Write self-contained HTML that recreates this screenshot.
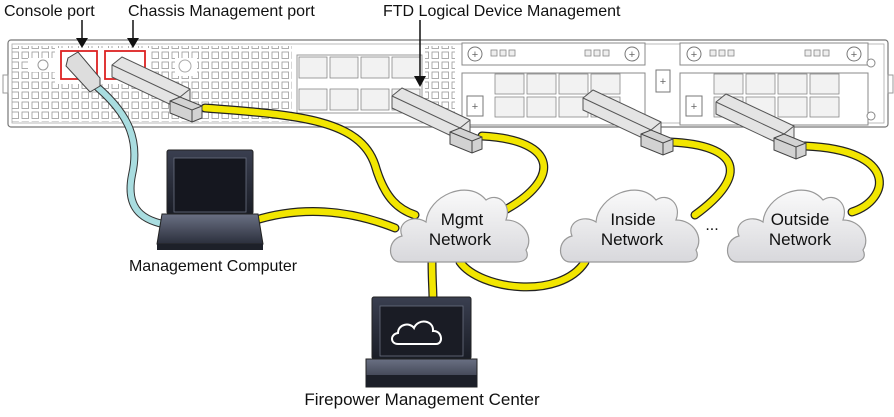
<!DOCTYPE html>
<html><head><meta charset="utf-8"><style>
html,body{margin:0;padding:0;background:#fff;}
svg{display:block;font-family:"Liberation Sans",Arial,sans-serif;}
</style></head><body>
<svg width="894" height="417" viewBox="0 0 894 417" xmlns="http://www.w3.org/2000/svg">
<defs>
<linearGradient id="cg" x1="0" y1="0" x2="0" y2="1"><stop offset="0" stop-color="#fafafa"/><stop offset="1" stop-color="#d8d8dc"/></linearGradient>
<linearGradient id="sg" x1="0" y1="0" x2="0" y2="1"><stop offset="0" stop-color="#3a3f50"/><stop offset="1" stop-color="#1a1d26"/></linearGradient>
<linearGradient id="bg" x1="0" y1="0" x2="0" y2="1"><stop offset="0" stop-color="#6a7083"/><stop offset="1" stop-color="#2b2f3c"/></linearGradient>
<pattern id="vent" x="0" y="0" width="10" height="10" patternUnits="userSpaceOnUse"><rect x="2" y="2" width="6.5" height="6.5" fill="#fff" stroke="#999" stroke-width="0.8"/></pattern>
<path id="cloud" d="M12,84 C0,84 -2,62 14,58 C8,44 26,36 38,44 C40,18 80,0 98,22 C110,14 124,26 118,42 C136,42 146,60 138,72 C142,80 136,84 128,84 Z"/>
<g id="sfp">
<path d="M0,8 L10,0 L78,32 L78,44 L68,52 L0,20 Z" fill="#e4e4e4" stroke="#555" stroke-width="1"/>
<path d="M0,8 L68,40 L78,32 M68,40 L68,52" fill="none" stroke="#555" stroke-width="1"/>
<path d="M58,44 L68,40 L90,49 L90,61 L80,65 L58,56 Z" fill="#d2d2d2" stroke="#444" stroke-width="1"/>
<path d="M58,44 L80,53 L90,49 M80,53 L80,65" fill="none" stroke="#444" stroke-width="1"/>
</g>
</defs>

<!-- chassis -->
<rect x="8" y="40" width="880" height="87" rx="3" fill="#fff" stroke="#777" stroke-width="1.2"/>
<rect x="12" y="44" width="872" height="79" fill="none" stroke="#aaa" stroke-width="0.8"/>
<rect x="3" y="75" width="5" height="18" fill="none" stroke="#999"/>
<rect x="888" y="75" width="5" height="18" fill="none" stroke="#999"/>
<rect x="12" y="46" width="280" height="76" fill="url(#vent)"/>
<rect x="55" y="48" width="95" height="36" fill="#fff"/>
<rect x="28" y="58" width="28" height="14" fill="#fff"/>
<circle cx="43" cy="65" r="5" fill="#fff" stroke="#999"/>
<rect x="175" y="58" width="22" height="18" fill="#fff"/>
<circle cx="185" cy="66" r="6" fill="#fff" stroke="#aaa"/>
<rect x="61" y="51" width="36" height="28" fill="#fff" stroke="#d22" stroke-width="1.8"/>
<rect x="105" y="51" width="40" height="28" fill="#fff" stroke="#d22" stroke-width="1.8"/>
<!-- module 1 fixed -->
<rect x="293" y="46" width="162" height="70" fill="#fff"/>
<rect x="297" y="55" width="125" height="58" fill="#fff" stroke="#999"/>
<g fill="#f2f2f2" stroke="#888" stroke-width="0.8">
<rect x="299" y="57" width="28" height="21"/><rect x="330" y="57" width="28" height="21"/><rect x="361" y="57" width="28" height="21"/><rect x="392" y="57" width="28" height="21"/>
<rect x="299" y="89" width="28" height="21"/><rect x="330" y="89" width="28" height="21"/><rect x="361" y="89" width="28" height="21"/><rect x="392" y="89" width="28" height="21"/>
</g>
<rect x="425" y="46" width="30" height="76" fill="url(#vent)"/>
<!-- module 2 -->
<rect x="462" y="43" width="183" height="22" fill="#fff" stroke="#888"/>
<rect x="462" y="73" width="183" height="52" fill="#fff" stroke="#888"/>
<!-- module 3 -->
<rect x="680" y="43" width="188" height="22" fill="#fff" stroke="#888"/>
<rect x="680" y="73" width="188" height="52" fill="#fff" stroke="#888"/>
<g fill="#f2f2f2" stroke="#888" stroke-width="0.8">
<rect x="495" y="74" width="29" height="20"/><rect x="527" y="74" width="29" height="20"/><rect x="559" y="74" width="29" height="20"/><rect x="591" y="74" width="29" height="20"/>
<rect x="495" y="97" width="29" height="20"/><rect x="527" y="97" width="29" height="20"/><rect x="559" y="97" width="29" height="20"/><rect x="591" y="97" width="29" height="20"/>
<rect x="714" y="74" width="29" height="20"/><rect x="746" y="74" width="29" height="20"/><rect x="778" y="74" width="29" height="20"/><rect x="810" y="74" width="29" height="20"/>
<rect x="714" y="97" width="29" height="20"/><rect x="746" y="97" width="29" height="20"/><rect x="778" y="97" width="29" height="20"/><rect x="810" y="97" width="29" height="20"/>
</g>
<g fill="#fff" stroke="#777" stroke-width="1">
<circle cx="475" cy="54" r="7"/><circle cx="632" cy="54" r="7"/><circle cx="694" cy="54" r="7"/><circle cx="854" cy="54" r="7"/>
<rect x="467" y="96" width="16" height="20"/><rect x="656" y="70" width="14" height="22"/><rect x="686" y="96" width="16" height="20"/>
</g>
<g font-size="11" fill="#666" text-anchor="middle"><text x="475" y="58">+</text><text x="632" y="58">+</text><text x="694" y="58">+</text><text x="854" y="58">+</text><text x="475" y="110">+</text><text x="663" y="85">+</text><text x="694" y="110">+</text></g>
<g fill="#eee" stroke="#888" stroke-width="0.8">
<rect x="491" y="50" width="6" height="6"/><rect x="500" y="50" width="6" height="6"/><rect x="509" y="50" width="6" height="6"/>
<rect x="585" y="50" width="6" height="6"/><rect x="594" y="50" width="6" height="6"/><rect x="603" y="50" width="6" height="6"/>
<rect x="710" y="50" width="6" height="6"/><rect x="719" y="50" width="6" height="6"/><rect x="728" y="50" width="6" height="6"/>
<rect x="805" y="50" width="6" height="6"/><rect x="814" y="50" width="6" height="6"/><rect x="823" y="50" width="6" height="6"/>
</g>
<circle cx="871" cy="63" r="4" fill="#fff" stroke="#888"/><circle cx="871" cy="116" r="4" fill="#fff" stroke="#888"/>

<!-- cables -->
<g fill="none" stroke-linecap="round">
<path d="M82,75 C130,110 140,140 132,175 C124,215 150,222 172,226" stroke="#333" stroke-width="8"/>
<path d="M82,75 C130,110 140,140 132,175 C124,215 150,222 172,226" stroke="#a9dde0" stroke-width="6"/>
<g stroke="#222" stroke-width="9">
<path d="M205,108 C300,115 360,120 375,165 C385,200 400,210 415,215"/>
<path d="M482,136 C560,140 560,180 505,210"/>
<path d="M670,142 C740,145 750,175 695,215"/>
<path d="M805,146 C900,150 890,200 852,212"/>
<path d="M250,222 C300,205 350,210 395,228"/>
<path d="M432,262 C432,280 433,290 433,300"/>
<path d="M460,262 C480,290 560,300 585,262"/>
</g>
<g stroke="#f2e600" stroke-width="6.5">
<path d="M205,108 C300,115 360,120 375,165 C385,200 400,210 415,215"/>
<path d="M482,136 C560,140 560,180 505,210"/>
<path d="M670,142 C740,145 750,175 695,215"/>
<path d="M805,146 C900,150 890,200 852,212"/>
<path d="M250,222 C300,205 350,210 395,228"/>
<path d="M432,262 C432,280 433,290 433,300"/>
<path d="M460,262 C480,290 560,300 585,262"/>
</g>
</g>
<!-- connectors -->
<path d="M68,58 L78,52 L100,78 L100,86 L90,92 L66,66 Z" fill="#ddd" stroke="#444"/>
<use href="#sfp" x="112" y="57"/>
<use href="#sfp" x="392" y="88"/>
<use href="#sfp" x="583" y="90"/>
<use href="#sfp" x="716" y="94"/>

<!-- clouds -->
<g fill="url(#cg)" stroke="#999" stroke-width="1.2">
<use href="#cloud" transform="translate(388,178)"/>
<use href="#cloud" transform="translate(558,178)"/>
<use href="#cloud" transform="translate(725,178)"/>
</g>
<g font-size="17" fill="#111" text-anchor="middle">
<text x="462" y="225">Mgmt</text><text x="460" y="245">Network</text>
<text x="633" y="225">Inside</text><text x="632" y="245">Network</text>
<text x="800" y="225">Outside</text><text x="800" y="245">Network</text>
</g>
<text x="712" y="230" font-size="16" fill="#111" text-anchor="middle">...</text>

<!-- laptop -->
<rect x="167" y="150" width="86" height="64" rx="2" fill="url(#sg)" stroke="#222"/>
<rect x="174" y="158" width="72" height="54" fill="#15171f" stroke="#6a7080" stroke-width="0.8"/>
<path d="M162,214 L258,214 L263,244 L157,244 Z" fill="url(#bg)" stroke="#222"/>
<rect x="157" y="244" width="106" height="6" fill="#1d2029"/>
<text x="213" y="271" font-size="16" fill="#111" text-anchor="middle">Management Computer</text>

<!-- FMC -->
<rect x="372" y="297" width="99" height="62" rx="2" fill="url(#sg)" stroke="#222"/>
<rect x="380" y="306" width="83" height="50" fill="#1a1c25" stroke="#6a7080" stroke-width="0.8"/>
<path d="M398,344 C390,344 390,334 398,333 C398,324 410,322 414,328 C418,318 434,320 433,331 C442,330 444,344 436,344 Z" fill="none" stroke="#fff" stroke-width="2"/>
<rect x="366" y="359" width="111" height="28" fill="url(#bg)" stroke="#222"/>
<rect x="366" y="375" width="111" height="12" fill="#1c1f28"/>
<text x="422" y="405" font-size="17" fill="#111" text-anchor="middle">Firepower Management Center</text>

<!-- top labels -->
<g font-size="16" fill="#111">
<text x="4" y="16">Console port</text>
<text x="128" y="16">Chassis Management port</text>
<text x="383" y="16">FTD Logical Device Management</text>
</g>
<g stroke="#111" stroke-width="1.5">
<line x1="82" y1="20" x2="82" y2="40"/><line x1="133" y1="20" x2="133" y2="40"/><line x1="420" y1="20" x2="420" y2="78"/>
</g>
<g fill="#111">
<path d="M76,38 L88,38 L82,48 Z"/><path d="M127,38 L139,38 L133,48 Z"/><path d="M414,76 L426,76 L420,87 Z"/>
</g>
</svg>
</body></html>
